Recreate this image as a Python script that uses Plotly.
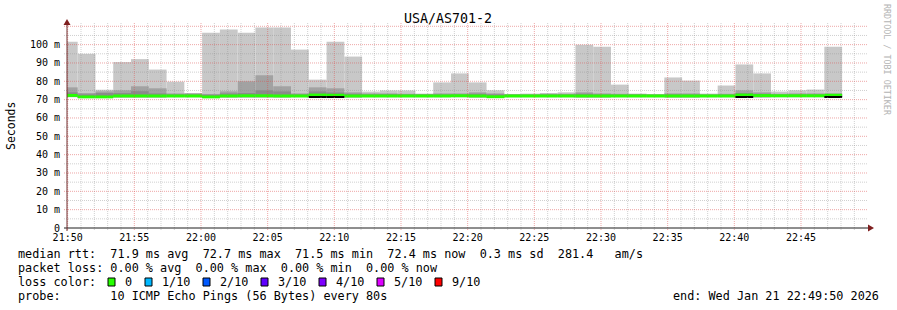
import plotly.graph_objects as go
import pandas as pd

# ---------------- data ----------------
title_text = "USA/AS701-2"
y_title = "Seconds"
watermark = "RRDTOOL / TOBI OETIKER"

first_bar_start = "2026-01-21 21:49:25"
bar_seconds = 80
x_range = ["2026-01-21 21:49:57", "2026-01-21 22:49:57"]

# smoke: max ping, 9th ping, 8th ping, min ping (ms) per 80 s step
ping_max = [101.6, 95.0, 75.4, 90.5, 92.1, 86.4, 79.8, 73.6, 106.5, 108.2,
            106.5, 109.3, 109.3, 97.3, 80.9, 101.6, 93.5, 74.4, 75.0, 75.0,
            73.3, 79.4, 84.3, 79.4, 75.1, 73.1, 73.3, 73.6, 74.0, 100.0,
            98.9, 78.2, 73.3, 72.9, 82.1, 80.4, 73.3, 77.7, 89.2, 84.3,
            74.4, 75.1, 75.5, 98.9]
ping_p9 = [76.7, 73.6, 74.5, 75.1, 77.3, 76.2, 73.4, 73.4, 73.1, 74.5,
           80.0, 83.3, 77.3, 73.4, 76.7, 76.2, 74.0, 73.4, 73.4, 73.2,
           73.0, 73.4, 73.4, 74.0, 73.4, 72.9, 72.9, 73.2, 73.2, 74.0,
           73.4, 73.2, 73.0, 72.9, 73.4, 73.4, 72.9, 73.2, 75.1, 74.0,
           73.2, 73.4, 73.4, 73.4]
ping_p8 = [74.0, 72.9, 73.6, 73.6, 74.6, 73.4, 72.9, 72.9, 72.7, 73.4,
           73.6, 75.1, 74.5, 72.9, 74.5, 73.9, 73.2, 72.9, 73.0, 72.9,
           72.8, 72.9, 72.9, 73.2, 72.9, 72.7, 72.7, 72.8, 72.8, 73.2,
           72.9, 72.8, 72.8, 72.7, 72.9, 72.9, 72.7, 72.8, 73.6, 73.2,
           72.8, 72.9, 72.9, 72.9]
ping_min = [71.4, 71.0, 71.0, 71.3, 71.3, 71.3, 71.4, 71.4, 71.0, 71.3,
            71.3, 71.3, 71.3, 71.4, 71.4, 71.2, 71.3, 71.4, 71.4, 71.4,
            71.4, 71.4, 71.4, 71.3, 71.0, 71.4, 71.4, 71.4, 71.4, 71.3,
            71.3, 71.4, 71.4, 71.4, 71.3, 71.3, 71.4, 71.4, 71.2, 71.3,
            71.4, 71.4, 71.4, 71.3]
median_rtt = [72.3, 71.5, 71.5, 72.0, 72.0, 72.0, 72.0, 72.0, 71.5, 72.0,
              72.1, 72.1, 72.0, 72.0, 72.5, 72.4, 72.0, 72.0, 72.0, 72.0,
              72.0, 72.0, 72.1, 72.0, 71.6, 72.0, 72.0, 72.0, 72.0, 72.0,
              72.0, 72.0, 72.0, 72.0, 72.0, 72.0, 72.0, 72.0, 72.5, 72.2,
              72.1, 72.1, 72.1, 72.4]
dark_line = [None] * 14 + [71.6, 71.5] + [None] * 22 + [71.5] + [None] * 4 + [71.5]

y_tick_vals = [0, 10, 20, 30, 40, 50, 60, 70, 80, 90, 100]
y_tick_text = ["0", "10 m", "20 m", "30 m", "40 m", "50 m", "60 m", "70 m", "80 m", "90 m", "100 m"]

legend_median = "median rtt:  71.9 ms avg  72.7 ms max  71.5 ms min  72.4 ms now  0.3 ms sd  281.4   am/s"
legend_loss = "packet loss: 0.00 % avg  0.00 % max  0.00 % min  0.00 % now"
legend_color_label = "loss color:"
legend_probe = "probe:       10 ICMP Echo Pings (56 Bytes) every 80s"
legend_end = "end: Wed Jan 21 22:49:50 2026"
loss_labels = ["0", "1/10", "2/10", "3/10", "4/10", "5/10", "9/10"]
loss_colors = ["#26ff00", "#00b8ff", "#0059ff", "#5e00ff", "#7e00ff", "#dd00ff", "#ff0000"]

smoke_colors = ["#c8c8c8", "#a2a2a2", "#8a8a8a"]

# ---------------- geometry ----------------
W_FIG, H_FIG = 897, 310
L, T, W, H = 67, 23, 800, 205
FONT = "DejaVu Sans Mono"


def pxx(x):
    return (x - L) / W


def pxy(y):
    return (T + H - y) / H


def nb(s):
    return s.replace(" ", "\u00a0")


n = len(ping_max)
starts = pd.date_range(first_bar_start, periods=n, freq=f"{bar_seconds}s")
centers = starts + pd.Timedelta(seconds=bar_seconds / 2)
bw = bar_seconds * 1000

fig = go.Figure()
for top, col in zip([ping_max, ping_p9, ping_p8], smoke_colors):
    fig.add_trace(go.Bar(x=centers, y=[t - b for t, b in zip(top, ping_min)], base=ping_min,
                         width=bw, marker=dict(color=col, line=dict(width=0)),
                         hoverinfo="skip", showlegend=False))
band = 1.6
fig.add_trace(go.Bar(x=centers, y=[band] * n, base=[m - band / 2 for m in median_rtt],
                     width=bw, marker=dict(color=loss_colors[0], line=dict(width=0)),
                     hoverinfo="skip", showlegend=False))
dl_idx = [i for i, v in enumerate(dark_line) if v is not None]
fig.add_trace(go.Bar(x=[centers[i] for i in dl_idx], y=[0.55] * len(dl_idx),
                     base=[dark_line[i] - 0.27 for i in dl_idx],
                     width=bw, marker=dict(color="#000000", line=dict(width=0)),
                     hoverinfo="skip", showlegend=False))

MINOR_C = "rgba(143,143,143,0.42)"
MAJOR_C = "rgba(222,79,79,0.5)"
shapes = []
# vertical grid (every minute), above traces
for t in pd.date_range("2026-01-21 21:50:00", "2026-01-21 22:49:00", freq="60s"):
    major = (t.minute % 5 == 0)
    shapes.append(dict(type="line", xref="x", yref="paper", x0=t, x1=t,
                       y0=-2 / H, y1=1, layer="above",
                       line=dict(color=MAJOR_C if major else MINOR_C, width=1, dash="1px,1px")))
# horizontal grid every 5 m
for v in range(5, 115, 5):
    major = (v % 10 == 0)
    shapes.append(dict(type="line", xref="paper", yref="y", x0=-3 / W, x1=1 + 1 / W,
                       y0=v, y1=v, layer="above",
                       line=dict(color=MAJOR_C if major else MINOR_C, width=1, dash="1px,1px")))
# axes
shapes.append(dict(type="line", xref="paper", yref="paper", x0=pxx(64), x1=pxx(869),
                   y0=0, y1=0, layer="above", line=dict(color="#1f1f1f", width=1)))
shapes.append(dict(type="line", xref="paper", yref="paper", x0=0, x1=0,
                   y0=pxy(231), y1=pxy(24), layer="above", line=dict(color="#6f2f2f", width=1)))
shapes.append(dict(type="path", xref="paper", yref="paper", xsizemode="pixel", ysizemode="pixel",
                   xanchor=1, yanchor=0, path="M 1 3.5 L 7 0 L 1 -3.5 Z", layer="above",
                   fillcolor="#7f1f1f", line=dict(width=0)))
shapes.append(dict(type="path", xref="paper", yref="paper", xsizemode="pixel", ysizemode="pixel",
                   xanchor=0, yanchor=1, path="M -3.5 -2 L 0 4 L 3.5 -2 Z", layer="above",
                   fillcolor="#7f1f1f", line=dict(width=0)))

annotations = []


def txt(text, x, y, size, xanchor="left", color="#000000", angle=0):
    annotations.append(dict(text=nb(text), x=pxx(x), y=pxy(y), xref="paper", yref="paper",
                            xanchor=xanchor, yanchor="middle", showarrow=False, textangle=angle,
                            font=dict(family=FONT, size=size, color=color)))


txt(title_text, 448, 19, 13.3, xanchor="center")
txt(y_title, 11, 126, 11.5, xanchor="center", angle=-90)
txt(watermark, 887, 60, 8.4, xanchor="center", color="#b4b4b4", angle=90)

CW = 7.0
LEG = 11.8
txt(legend_median, 16, 254, LEG)
txt(legend_loss, 16, 268, LEG)
txt(legend_color_label, 16, 282, LEG)
txt(legend_probe, 16, 296, LEG)
txt(legend_end, 881, 296, LEG, xanchor="right")

bx = 108
for lab, col in zip(loss_labels, loss_colors):
    shapes.append(dict(type="rect", xref="paper", yref="paper",
                       x0=pxx(bx), x1=pxx(bx + 7), y0=pxy(286), y1=pxy(278),
                       fillcolor=col, line=dict(color="#000000", width=1), layer="above"))
    tx = bx + 15
    txt(lab, tx, 282, LEG)
    bx = tx + len(lab) * CW + 15

fig.update_layout(
    width=W_FIG, height=H_FIG,
    margin=dict(l=L, r=W_FIG - L - W, t=T, b=H_FIG - T - H, pad=0),
    paper_bgcolor="#ffffff", plot_bgcolor="#ffffff",
    barmode="overlay", showlegend=False,
    shapes=shapes, annotations=annotations,
    font=dict(family=FONT, color="#000000"),
    xaxis=dict(type="date", range=x_range, showgrid=False, zeroline=False, showline=False,
               tickformat="%H:%M", dtick=300000, tick0="2026-01-21 21:50:00",
               ticks="", tickfont=dict(family=FONT, size=10, color="#000000"),
               ticklabelstandoff=2, fixedrange=True),
    yaxis=dict(range=[0, 111.8], showgrid=False, zeroline=False, showline=False,
               tickvals=y_tick_vals, ticktext=y_tick_text, ticks="",
               tickfont=dict(family=FONT, size=10, color="#000000"),
               ticklabelstandoff=6, fixedrange=True),
)

fig.write_html("out.html")
